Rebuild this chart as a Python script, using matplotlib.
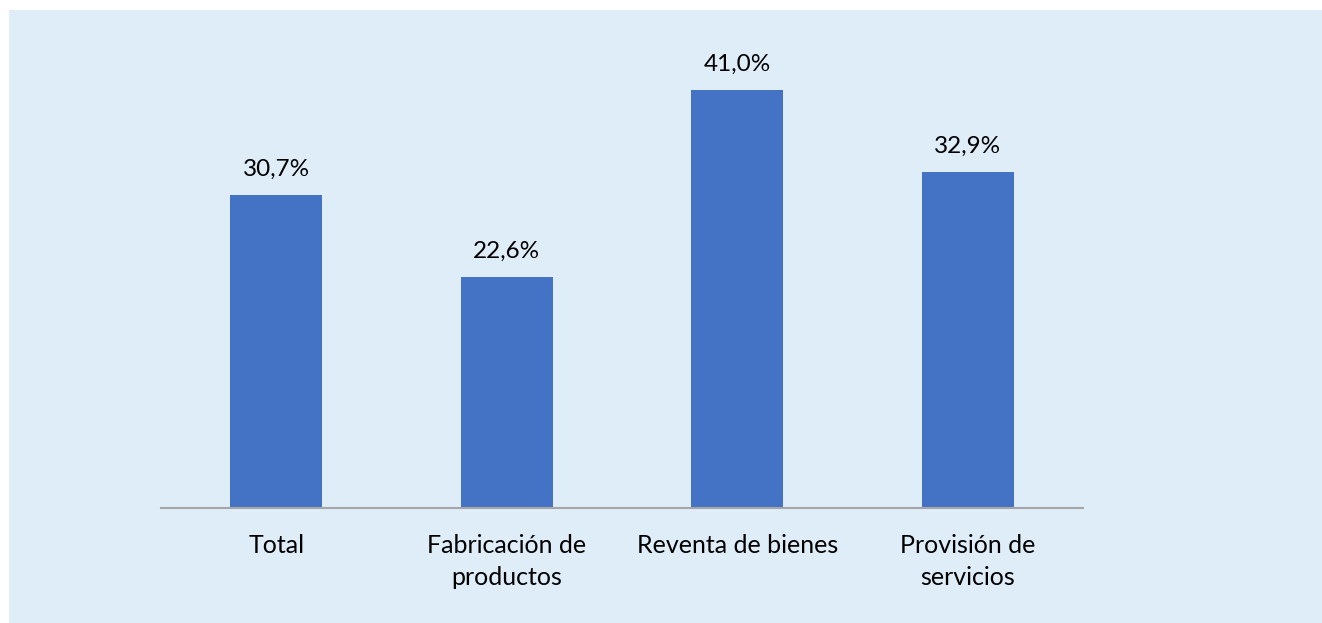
import matplotlib
matplotlib.use("Agg")
import matplotlib.pyplot as plt
from matplotlib.patches import Rectangle

categories = ["Total", "Fabricación de\nproductos", "Reventa de bienes", "Provisión de\nservicios"]
values = [30.7, 22.6, 41.0, 32.9]
value_labels = ["30,7%", "22,6%", "41,0%", "32,9%"]

plt.rcParams['font.family'] = ['Lato', 'DejaVu Sans']

W, H = 1322, 623
fig = plt.figure(figsize=(W/100, H/100), dpi=100, facecolor='white')
fig.patches.append(Rectangle((9/W, 0), 1 - 9/W, 1 - 10/H, transform=fig.transFigure,
                             facecolor='#DFEDF9', edgecolor='none', linewidth=0, zorder=-10))

base_px = 508
top_px = 508 - 45 * 10.2
ax = fig.add_axes([161/W, (H-base_px)/H, 922/W, (base_px-top_px)/H])
ax.set_zorder(5)
ax.set_facecolor('none')
x = range(len(categories))
ax.bar(x, values, width=0.4, color='#4472C4', zorder=2)
ax.set_xlim(-0.5, 3.5)
ax.set_ylim(0, 45)
for xi, v, lab in zip(x, values, value_labels):
    ax.annotate(lab, (xi, v), xytext=(0, 11), textcoords='offset points',
                ha='center', va='bottom', fontsize=17.5, color='#000000')
ax.set_xticks(list(x))
ax.set_xticklabels(categories, fontsize=18, linespacing=1.5)
ax.tick_params(axis='x', length=0, pad=18.5)
ax.set_yticks([])
for s in ['top', 'right', 'left']:
    ax.spines[s].set_visible(False)
ax.spines['bottom'].set_color('#A6A6A6')
ax.spines['bottom'].set_linewidth(1.5)

fig.savefig('out.png', dpi=100, facecolor='white')
